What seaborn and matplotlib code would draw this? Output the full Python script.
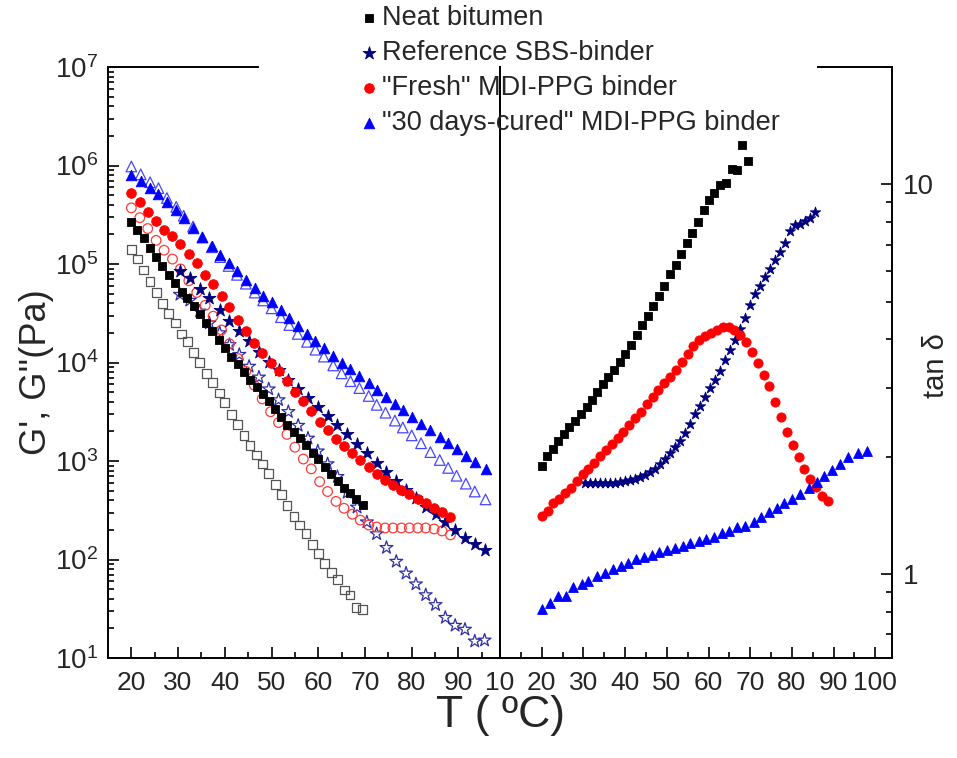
import numpy as np
import matplotlib
matplotlib.use("Agg")
import matplotlib.pyplot as plt
import seaborn as sns
from matplotlib import font_manager
from matplotlib.ticker import (LogLocator, MultipleLocator, FuncFormatter, NullFormatter,
                               FixedLocator)

# ---------------- data ----------------
legend_labels = ["Neat bitumen", "Reference SBS-binder",
                 "\"Fresh\" MDI-PPG binder", "\"30 days-cured\" MDI-PPG binder"]
left_xticks = [20, 30, 40, 50, 60, 70, 80, 90]
right_xticks = [10, 20, 30, 40, 50, 60, 70, 80, 90, 100]
left_yticks = [1e1, 1e2, 1e3, 1e4, 1e5, 1e6, 1e7]
right_yticks = [1, 10]

# Neat bitumen
bit_T = [20.0, 21.3, 22.6, 24.0, 25.3, 26.6, 28.0, 29.4, 30.8, 32.0, 33.3, 34.6, 36.0,
         37.3, 38.8, 40.0, 41.4, 42.8, 44.1, 45.4, 46.8, 48.1, 49.4, 50.8, 52.1, 53.3,
         54.8, 56.0, 57.4, 58.8, 60.0, 61.4, 62.8, 64.2, 65.6, 66.8, 68.1, 69.5]
bit_filled_log10 = [5.43, 5.35, 5.26, 5.16, 5.07, 4.98, 4.89, 4.81, 4.72, 4.65, 4.57, 4.49,
                    4.40, 4.32, 4.23, 4.15, 4.06, 3.98, 3.90, 3.82, 3.75, 3.68, 3.61, 3.53,
                    3.45, 3.37, 3.29, 3.23, 3.16, 3.08, 3.02, 2.94, 2.87, 2.80, 2.73, 2.68,
                    2.61, 2.55]
bit_open_log10 = [5.15, 5.05, 4.94, 4.82, 4.71, 4.60, 4.50, 4.40, 4.29, 4.21, 4.10, 4.00,
                  3.89, 3.80, 3.69, 3.59, 3.47, 3.37, 3.26, 3.16, 3.06, 2.97, 2.87, 2.76,
                  2.66, 2.55, 2.44, 2.35, 2.26, 2.15, 2.06, 1.96, 1.87, 1.80, 1.69, 1.64,
                  1.51, 1.49]
bit_tan_log10 = [0.278, 0.303, 0.320, 0.340, 0.359, 0.376, 0.393, 0.411, 0.428, 0.445,
                 0.466, 0.488, 0.506, 0.524, 0.543, 0.565, 0.588, 0.612, 0.638, 0.663,
                 0.687, 0.713, 0.740, 0.769, 0.794, 0.822, 0.850, 0.876, 0.902, 0.933,
                 0.959, 0.978, 0.997, 1.002, 1.038, 1.036, 1.100, 1.060]

# Reference SBS binder (moduli)
sbs_T = [30.4, 32.5, 34.6, 36.7, 38.9, 41.0, 43.1, 45.2, 47.3, 49.4, 51.5, 53.6, 55.7,
         57.8, 59.9, 62.0, 64.1, 66.2, 68.3, 70.4, 72.5, 74.6, 76.7, 78.8, 80.9, 83.0,
         85.1, 87.2, 89.3, 91.4, 93.5, 95.6]
sbs_filled_log10 = [4.93, 4.86, 4.75, 4.65, 4.53, 4.42, 4.32, 4.22, 4.11, 4.01, 3.92, 3.82,
                    3.73, 3.64, 3.55, 3.46, 3.37, 3.27, 3.17, 3.08, 2.98, 2.89, 2.80, 2.71,
                    2.62, 2.53, 2.46, 2.38, 2.30, 2.22, 2.16, 2.10]
sbs_open_log10 = [4.69, 4.63, 4.52, 4.40, 4.30, 4.18, 4.08, 3.96, 3.85, 3.73, 3.62, 3.50,
                  3.36, 3.23, 3.10, 2.97, 2.84, 2.68, 2.53, 2.38, 2.26, 2.12, 1.98, 1.86,
                  1.75, 1.64, 1.54, 1.41, 1.33, 1.29, 1.17, 1.18]
# Reference SBS binder (tan delta)
sbs_tan_T = [30.4, 31.6, 32.8, 34.0, 35.2, 36.4, 37.6, 38.8, 40.0, 41.2, 42.4, 43.6, 44.8,
             46.0, 47.2, 48.4, 49.6, 50.8, 52.0, 53.2, 54.4, 55.6, 56.8, 58.0, 59.2, 60.4,
             61.6, 62.8, 64.0, 65.2, 66.4, 67.6, 68.8, 70.0, 71.2, 72.4, 73.6, 74.8, 76.0,
             77.2, 78.4, 79.6, 80.8, 82.0, 83.2, 84.4, 85.6]
sbs_tan_log10 = [0.233, 0.232, 0.232, 0.233, 0.233, 0.233, 0.234, 0.235, 0.237, 0.240,
                 0.244, 0.248, 0.254, 0.261, 0.270, 0.282, 0.294, 0.309, 0.325, 0.342,
                 0.362, 0.385, 0.409, 0.430, 0.455, 0.478, 0.498, 0.520, 0.548, 0.574,
                 0.600, 0.628, 0.656, 0.690, 0.718, 0.740, 0.762, 0.783, 0.805, 0.825,
                 0.850, 0.880, 0.895, 0.899, 0.905, 0.913, 0.928]

# "Fresh" MDI-PPG binder (moduli)
fresh_T = [20.0, 21.8, 23.5, 25.3, 27.0, 28.8, 30.5, 32.3, 34.0, 35.8, 37.5, 39.3, 41.0,
           42.8, 44.5, 46.3, 48.0, 49.8, 51.5, 53.3, 55.0, 56.8, 58.5, 60.3, 62.0, 63.8,
           65.5, 67.3, 69.0, 70.8, 72.5, 74.3, 76.0, 77.8, 79.5, 81.3, 83.0, 84.8, 86.5, 88.3]
fresh_filled_log10 = [5.72, 5.63, 5.53, 5.44, 5.35, 5.28, 5.20, 5.10, 5.01, 4.89, 4.80, 4.68,
                      4.56, 4.43, 4.32, 4.20, 4.10, 4.00, 3.91, 3.81, 3.70, 3.61, 3.51, 3.40,
                      3.31, 3.22, 3.15, 3.08, 3.01, 2.94, 2.87, 2.81, 2.76, 2.71, 2.66, 2.61,
                      2.57, 2.52, 2.48, 2.43]
fresh_open_log10 = [5.57, 5.47, 5.36, 5.24, 5.14, 5.05, 4.95, 4.83, 4.71, 4.58, 4.47, 4.33,
                    4.19, 4.04, 3.91, 3.77, 3.63, 3.50, 3.39, 3.27, 3.14, 3.02, 2.92, 2.79,
                    2.69, 2.59, 2.52, 2.46, 2.40, 2.35, 2.33, 2.32, 2.32, 2.32, 2.32, 2.32,
                    2.32, 2.31, 2.29, 2.25]
# "Fresh" MDI-PPG binder (tan delta)
fresh_tan_T = [20.0, 21.4, 22.8, 24.2, 25.6, 27.0, 28.4, 29.8, 31.2, 32.6, 34.0, 35.4, 36.8,
               38.2, 39.6, 41.0, 42.4, 43.8, 45.2, 46.6, 48.0, 49.4, 50.8, 52.2, 53.6, 55.0,
               56.4, 57.8, 59.2, 60.6, 62.0, 63.4, 64.8, 66.2, 67.6, 69.0, 70.4, 71.8, 73.2,
               74.6, 76.0, 77.4, 78.8, 80.2, 81.6, 83.0, 84.4, 85.8, 87.2, 88.6]
fresh_tan_log10 = [0.149, 0.162, 0.183, 0.192, 0.207, 0.221, 0.238, 0.257, 0.270, 0.285,
                   0.303, 0.318, 0.333, 0.348, 0.364, 0.381, 0.400, 0.416, 0.435, 0.455,
                   0.473, 0.489, 0.506, 0.523, 0.543, 0.565, 0.585, 0.600, 0.610, 0.619,
                   0.627, 0.633, 0.634, 0.626, 0.612, 0.594, 0.570, 0.540, 0.510, 0.482,
                   0.440, 0.402, 0.365, 0.330, 0.300, 0.269, 0.243, 0.222, 0.200, 0.187]

# "30 days-cured" MDI-PPG binder (moduli)
cured_T = [20.0, 22.0, 24.0, 25.8, 27.6, 29.6, 31.2, 33.2, 35.2, 37.2, 39.0, 40.8, 42.6,
           44.5, 46.4, 48.2, 50.0, 52.0, 53.8, 55.6, 57.6, 59.4, 61.2, 63.2, 65.0, 66.9,
           68.8, 70.8, 72.5, 74.4, 76.4, 78.1, 80.0, 82.0, 84.0, 86.0, 87.8, 89.6, 91.6,
           93.5, 95.8]
cured_filled_log10 = [5.90, 5.84, 5.77, 5.71, 5.63, 5.55, 5.47, 5.37, 5.27, 5.18, 5.09, 5.01,
                      4.93, 4.84, 4.76, 4.68, 4.61, 4.53, 4.45, 4.37, 4.29, 4.22, 4.15, 4.07,
                      4.00, 3.93, 3.86, 3.79, 3.72, 3.65, 3.58, 3.52, 3.45, 3.38, 3.31, 3.24,
                      3.18, 3.12, 3.05, 2.99, 2.92]
cured_open_log10 = [5.99, 5.91, 5.83, 5.77, 5.67, 5.58, 5.49, 5.38, 5.27, 5.17, 5.07, 4.98,
                    4.89, 4.80, 4.71, 4.63, 4.55, 4.46, 4.38, 4.29, 4.21, 4.13, 4.06, 3.97,
                    3.89, 3.81, 3.74, 3.66, 3.57, 3.49, 3.41, 3.34, 3.26, 3.18, 3.09, 3.01,
                    2.93, 2.85, 2.77, 2.69, 2.61]
# "30 days-cured" MDI-PPG binder (tan delta)
cured_tan_T = [20.0, 22.0, 24.0, 25.8, 27.6, 29.6, 31.2, 33.2, 35.2, 37.2, 39.0, 40.8, 42.6,
               44.5, 46.4, 48.2, 50.0, 52.0, 53.8, 55.6, 57.6, 59.4, 61.2, 63.2, 65.0, 66.9,
               68.8, 70.8, 72.5, 74.4, 76.4, 78.1, 80.0, 82.0, 84.0, 86.0, 87.8, 89.6, 91.6,
               93.5, 95.8, 98.1]
cured_tan_log10 = [-0.091, -0.074, -0.057, -0.057, -0.035, -0.026, -0.018, -0.005, 0.003,
                   0.012, 0.021, 0.029, 0.038, 0.044, 0.049, 0.055, 0.061, 0.066, 0.072,
                   0.078, 0.083, 0.089, 0.095, 0.104, 0.111, 0.119, 0.123, 0.134, 0.147,
                   0.158, 0.170, 0.183, 0.193, 0.205, 0.220, 0.235, 0.252, 0.266, 0.281,
                   0.299, 0.309, 0.316]

# ---------------- style ----------------
sns.set_style("ticks")
avail = {f.name for f in font_manager.fontManager.ttflist}
NARROW = "Liberation Sans Narrow" if "Liberation Sans Narrow" in avail else "Liberation Sans"
plt.rcParams["font.family"] = ["Liberation Sans", "DejaVu Sans"]
plt.rcParams["mathtext.default"] = "regular"

fig = plt.figure(figsize=(9.57, 7.58), dpi=100)
W, H = 957.0, 758.0
axL = fig.add_axes([108 / W, 100 / H, 392 / W, 591 / H])
axR = fig.add_axes([500 / W, 100 / H, 392 / W, 591 / H])

BLACK, GREY = "#000000", "#555555"
NAVY, NAVY_O = "#000080", "#2e2ea6"
RED, RED_O = "#ff0000", "#ff3a3a"
BLUE, BLUE_O = "#0000ff", "#4646ff"


def p(v):
    return 10 ** np.asarray(v)


def filled(ax, x, y, marker, s, c, label=None):
    sns.scatterplot(x=x, y=y, ax=ax, marker=marker, s=s, color=c, edgecolor=c,
                    linewidth=0.6, label=label, zorder=3)


def hollow(ax, x, y, marker, s, c):
    sns.scatterplot(x=x, y=y, ax=ax, marker=marker, s=s, facecolor="none",
                    edgecolor=c, linewidth=0.9, zorder=2)


# left panel: moduli
hollow(axL, bit_T, p(bit_open_log10), "s", 40, GREY)
hollow(axL, sbs_T, p(sbs_open_log10), "*", 95, NAVY_O)
hollow(axL, fresh_T, p(fresh_open_log10), "o", 48, RED_O)
hollow(axL, cured_T, p(cured_open_log10), "^", 58, BLUE_O)
filled(axL, bit_T, p(bit_filled_log10), "s", 40, BLACK, legend_labels[0])
filled(axL, sbs_T, p(sbs_filled_log10), "*", 95, NAVY, legend_labels[1])
filled(axL, fresh_T, p(fresh_filled_log10), "o", 48, RED, legend_labels[2])
filled(axL, cured_T, p(cured_filled_log10), "^", 58, BLUE, legend_labels[3])

# right panel: tan delta
filled(axR, bit_T, p(bit_tan_log10), "s", 36, BLACK)
filled(axR, sbs_tan_T, p(sbs_tan_log10), "*", 62, NAVY)
filled(axR, fresh_tan_T, p(fresh_tan_log10), "o", 44, RED)
filled(axR, cured_tan_T, p(cured_tan_log10), "^", 50, BLUE)

for ax in (axL, axR):
    leg = ax.get_legend()
    if leg is not None:
        leg.remove()
    ax.set_yscale("log")
    ax.xaxis.set_minor_locator(MultipleLocator(5))
    ax.set_xlabel("")
    ax.set_ylabel("")
    for sp in ax.spines.values():
        sp.set_visible(True)
        sp.set_linewidth(1.4)
        sp.set_color("black")
    ax.tick_params(which="both", direction="in", color="black", width=1.2)
    ax.tick_params(which="major", length=8)
    ax.tick_params(which="minor", length=4.5)

axL.set_xlim(15, 98.9)
axL.set_ylim(10, 1e7)
axL.xaxis.set_major_locator(FixedLocator(left_xticks))
axL.yaxis.set_major_locator(FixedLocator(left_yticks))
axL.yaxis.set_minor_locator(LogLocator(base=10, subs=np.arange(2, 10), numticks=20))
axL.yaxis.set_major_formatter(FuncFormatter(lambda v, _: r"$10^{%d}$" % round(np.log10(v))))
axL.yaxis.set_minor_formatter(NullFormatter())
axL.tick_params(axis="y", which="both", left=True, right=False)
axL.tick_params(axis="y", which="major", pad=7, labelsize=20)
axL.tick_params(axis="x", which="major", pad=9, labelsize=19)
axL.spines["top"].set_bounds(15, 47.1)
for lab in axL.get_yticklabels() + axL.get_xticklabels():
    lab.set_family(NARROW)

axR.set_xlim(10, 104)
axR.set_ylim(0.608, 20)
axR.xaxis.set_major_locator(FixedLocator(right_xticks))
axR.yaxis.tick_right()
axR.yaxis.set_major_locator(FixedLocator(right_yticks))
axR.yaxis.set_minor_locator(LogLocator(base=10, subs=np.arange(2, 10), numticks=20))
axR.yaxis.set_major_formatter(FuncFormatter(lambda v, _: "%g" % v))
axR.yaxis.set_minor_formatter(NullFormatter())
axR.tick_params(axis="y", which="both", left=False, right=True, labelleft=False,
                labelright=True)
axR.tick_params(axis="y", which="major", pad=8, labelsize=20)
axR.tick_params(axis="x", which="major", pad=9, labelsize=19)
axR.spines["top"].set_bounds(86.2, 104)
for lab in axR.get_xticklabels():
    lab.set_family(NARROW)

# axis titles
fig.text(500 / W, 1 - 716 / H, "T ( ºC)", ha="center", va="center", fontsize=32)
fig.text(36 / W, 1 - 372 / H, "G', G''(Pa)", ha="center", va="center", rotation=90,
         fontsize=26)
fig.text(936 / W, 1 - 366 / H, "tan δ", ha="center", va="center", rotation=90,
         fontsize=21)

# legend
handles, labels = axL.get_legend_handles_labels()
fig.legend(handles, labels, loc="upper left", bbox_to_anchor=(362 / W, 1 - 5 / H),
           frameon=False, fontsize=19.5, handlelength=0.5, handletextpad=0.22,
           labelspacing=0.33, borderpad=0, borderaxespad=0, scatterpoints=1)

fig.savefig("out.png", dpi=100)
